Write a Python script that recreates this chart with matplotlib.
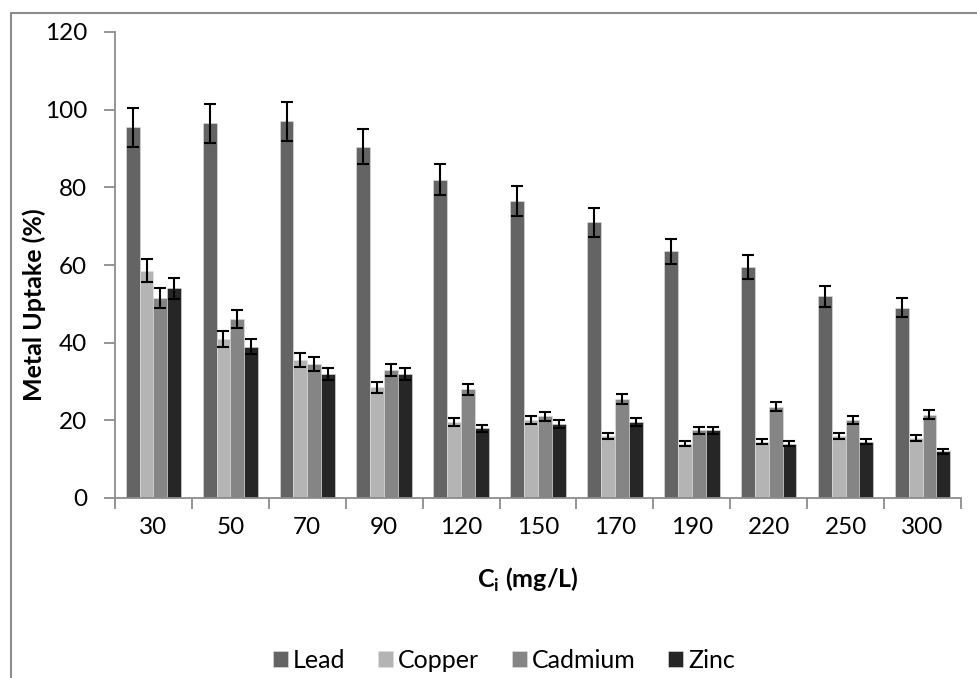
import matplotlib.pyplot as plt
import numpy as np
from matplotlib.patches import Rectangle

plt.rcParams['font.family'] = ['Lato', 'DejaVu Sans']

# concentrations (mg/L)
ci = ['30', '50', '70', '90', '120', '150', '170', '190', '220', '250', '300']

# metal uptake (%)
lead = [95.5, 96.5, 97, 90.5, 82, 76.5, 71, 63.5, 59.5, 52, 49]
copper = [58.5, 41, 35.5, 28.5, 19.5, 20, 16, 14, 14.5, 16, 15.5]
cadmium = [51.5, 46, 34.5, 33, 28, 21, 25.5, 17.5, 23.5, 20, 21.5]
zinc = [54, 39, 32, 32, 18, 19, 19.5, 17.5, 14, 14.5, 12]

# error bars
lead_err = [5, 5, 5, 4.6, 4.1, 3.9, 3.7, 3.2, 3, 2.7, 2.5]
copper_err = [3, 2, 1.8, 1.4, 1, 1, 0.8, 0.7, 0.7, 0.8, 0.8]
cadmium_err = [2.6, 2.3, 1.7, 1.6, 1.4, 1.1, 1.3, 0.9, 1.2, 1.0, 1.1]
zinc_err = [2.7, 2, 1.6, 1.6, 0.9, 1, 1, 0.9, 0.7, 0.7, 0.6]

names = ['Lead', 'Copper', 'Cadmium', 'Zinc']
colors = ['#646464', '#b4b4b4', '#858585', '#262626']
series = [lead, copper, cadmium, zinc]
errs = [lead_err, copper_err, cadmium_err, zinc_err]

fig = plt.figure(figsize=(9.78, 6.78), dpi=100)
ax = fig.add_axes([115 / 978, 1 - 498 / 678, (961 - 115) / 978, (498 - 32) / 678])

x = np.arange(len(ci))
w = 0.18
for i in range(4):
    ax.bar(x + (i - 1.5) * w, series[i], w, color=colors[i], label=names[i],
           edgecolor='#e0e0e0', linewidth=0.4,
           yerr=errs[i], capsize=4.5,
           error_kw=dict(ecolor='black', elinewidth=1.5, capthick=1.5))

ax.set_xlim(-0.5, len(ci) - 0.5)
ax.set_ylim(0, 120)
ax.set_yticks(range(0, 121, 20))
ax.set_xticks(x)
ax.set_xticklabels(ci)
ax.set_xticks(np.arange(-0.5, len(ci), 1), minor=True)
ax.tick_params(axis='x', which='major', length=0, pad=14, labelsize=17.5)
ax.tick_params(axis='x', which='minor', length=8, width=1.3, color='#8c8c8c', direction='out')
ax.tick_params(axis='y', length=8, width=1.3, color='#8c8c8c', labelsize=17.5, pad=12)

for s in ['top', 'right']:
    ax.spines[s].set_visible(False)
for s in ['left', 'bottom']:
    ax.spines[s].set_color('#8c8c8c')
    ax.spines[s].set_linewidth(1.3)

ax.set_xlabel('C$_\\mathregular{i}$ (mg/L)', fontsize=18, fontweight='bold')
ax.xaxis.set_label_coords(0.488, -0.146)
ax.set_ylabel('Metal Uptake (%)', fontsize=18, fontweight='bold')
ax.yaxis.set_label_coords(-0.082, 0.414)

fig.legend(loc='center', bbox_to_anchor=(504 / 978, 1 - 660 / 678), ncol=4, frameon=False,
           fontsize=18, handlelength=0.6, handleheight=0.6, handletextpad=0.2,
           columnspacing=1.3)

# outer chart frame
fig.patches.append(Rectangle((11 / 978, -0.1), 1.1, 1.1 - 13 / 678,
                             transform=fig.transFigure, fill=False,
                             edgecolor='#8c8c8c', linewidth=1.5))

fig.savefig('out.png', dpi=100)
